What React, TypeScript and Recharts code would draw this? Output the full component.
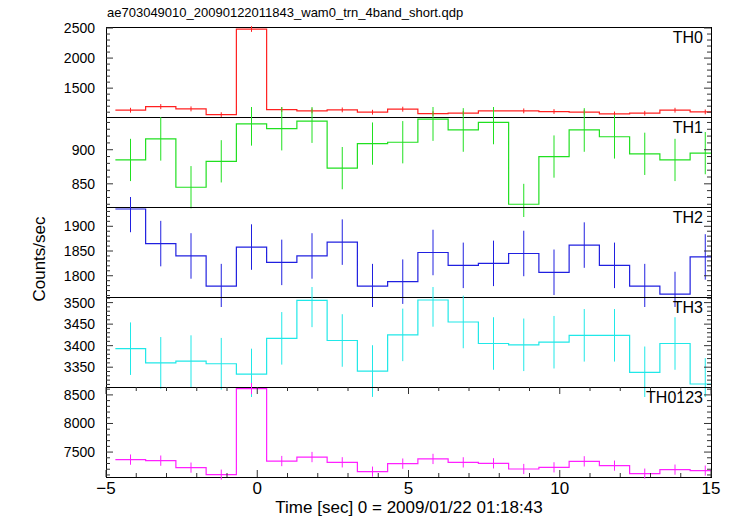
import React from 'react';
import { ComposedChart, Line, Scatter, ErrorBar, XAxis, YAxis, ReferenceArea } from 'recharts';

// bin centres (sec), bin width 1 s
const binTime = [-4.19, -3.19, -2.19, -1.19, -0.19, 0.81, 1.81, 2.81, 3.81, 4.81,
  5.81, 6.81, 7.81, 8.81, 9.81, 10.81, 11.81, 12.81, 13.81, 14.81];
const binWidth = 1;

const th0 = [1133, 1193, 1155, 1060, 2483, 1143, 1122, 1138, 1100, 1150,
  1077, 1083, 1122, 1122, 1111, 1100, 1072, 1083, 1133, 1105];
const th0Err = [40, 42, 41, 39, 47, 40, 40, 40, 40, 41, 39, 39, 40, 40, 40, 40, 39, 39, 40, 40];

const th1 = [885, 916, 845, 883, 938, 931, 942, 873, 909, 911,
  945, 929, 940, 820, 890, 929, 919, 894, 885, 895];
const th1Err = [31, 32, 31, 31, 32, 32, 32, 31, 31, 31, 32, 32, 32, 30, 31, 32, 32, 31, 31, 31];

const th2 = [1935, 1865, 1840, 1779, 1858, 1827, 1840, 1868, 1779, 1788,
  1847, 1821, 1825, 1845, 1807, 1862, 1821, 1779, 1763, 1838];
const th2Err = [47, 46, 46, 45, 46, 46, 46, 46, 45, 45, 46, 46, 46, 46, 46, 46, 46, 45, 45, 46];

const th3 = [3393, 3360, 3364, 3358, 3334, 3417, 3505, 3412, 3341, 3425,
  3506, 3455, 3405, 3402, 3408, 3424, 3424, 3338, 3405, 3311];
const th3Err = [61, 60, 60, 60, 59, 61, 62, 61, 60, 61, 62, 61, 61, 61, 61, 61, 61, 60, 61, 60];

const th0123 = [7368, 7350, 7228, 7106, 8610, 7343, 7413, 7321, 7158, 7298,
  7380, 7320, 7303, 7204, 7233, 7338, 7263, 7124, 7193, 7176];
const th0123Err = [90, 90, 89, 88, 97, 90, 90, 90, 88, 90, 90, 90, 90, 89, 89, 90, 89, 88, 89, 89];

const xMajor = [-5, 0, 5, 10, 15];

const FONT = '"Liberation Sans", Arial, Helvetica, sans-serif';
const PLOT_LEFT = 106;
const PLOT_W = 605;
const PLOT_H = 90;
const TOP0 = 27;

interface PanelDef {
  name: string;
  color: string;
  values: number[];
  errors: number[];
  domain: [number, number];
  major: number[];
  minorStep: number;
}

const panels: PanelDef[] = [
  { name: 'TH0', color: '#ff2020', values: th0, errors: th0Err, domain: [1020, 2517], major: [1500, 2000, 2500], minorStep: 100 },
  { name: 'TH1', color: '#20e020', values: th1, errors: th1Err, domain: [816, 948], major: [850, 900], minorStep: 10 },
  { name: 'TH2', color: '#2020e0', values: th2, errors: th2Err, domain: [1757, 1939], major: [1800, 1850, 1900], minorStep: 10 },
  { name: 'TH3', color: '#20e8e8', values: th3, errors: th3Err, domain: [3304, 3513], major: [3350, 3400, 3450, 3500], minorStep: 10 },
  { name: 'TH0123', color: '#ff20ff', values: th0123, errors: th0123Err, domain: [7064, 8638], major: [7500, 8000, 8500], minorStep: 100 },
];

const xTicks: number[] = [];
for (let t = -5; t <= 15; t++) xTicks.push(t);

function yTicksFor(p: PanelDef) {
  const out: number[] = [];
  const start = Math.ceil(p.domain[0] / p.minorStep) * p.minorStep;
  for (let v = start; v <= p.domain[1]; v += p.minorStep) out.push(v);
  return out;
}

const TICK = '#333';

const YTick = (props: any) => {
  const { x, y, payload, major } = props;
  const isMajor = major.includes(payload.value);
  const len = isMajor ? 7 : 4;
  return (
    <g>
      <line x1={x} y1={y} x2={x + len} y2={y} stroke={TICK} />
      <line x1={x + PLOT_W} y1={y} x2={x + PLOT_W - len} y2={y} stroke={TICK} />
      {isMajor && (
        <text x={x - 11} y={y + 5} textAnchor="end" fontSize={14} fontFamily={FONT} fill="#000">
          {payload.value}
        </text>
      )}
    </g>
  );
};

const XTick = (props: any) => {
  const { x, y, payload, showLabel } = props;
  const isMajor = xMajor.includes(payload.value);
  const len = isMajor ? 7 : 4;
  return (
    <g>
      <line x1={x} y1={y} x2={x} y2={y - len} stroke={TICK} />
      <line x1={x} y1={y - PLOT_H} x2={x} y2={y - PLOT_H + len} stroke={TICK} />
      {showLabel && isMajor && (
        <text x={x} y={y + 17} textAnchor="middle" fontSize={17} fontFamily={FONT} fill="#000">
          {String(payload.value).replace('-', '\u2212')}
        </text>
      )}
    </g>
  );
};

const PanelLabel = (props: any) => {
  const { viewBox, name } = props;
  return (
    <text x={viewBox.x + viewBox.width - 8} y={viewBox.y + 16} textAnchor="end" fontSize={16} fontFamily={FONT} fill="#000">
      {name}
    </text>
  );
};

const Panel = ({ p, index, last }: { p: PanelDef; index: number; last: boolean }) => {
  const steps = p.values.map((v, i) => ({ t: binTime[i] - binWidth / 2, v }));
  steps.push({ t: binTime[binTime.length - 1] + binWidth / 2, v: p.values[p.values.length - 1] });
  const points = p.values.map((v, i) => ({ t: binTime[i], v, e: p.errors[i] }));
  const pad = 10;
  const axisH = last ? 40 : 0;
  return (
    <div style={{ position: 'absolute', left: 0, top: TOP0 + index * PLOT_H - pad }}>
      <ComposedChart width={733} height={PLOT_H + pad * (last ? 1 : 2) + axisH}
        margin={{ top: pad, right: 22, bottom: last ? 0 : pad, left: 0 }}>
        <XAxis dataKey="t" type="number" domain={[-5, 15]} allowDataOverflow ticks={xTicks} interval={0}
          height={axisH} tickLine={false} axisLine={false} tickSize={0} tickMargin={0}
          tick={<XTick showLabel={last} />} />
        <YAxis type="number" domain={p.domain} allowDataOverflow ticks={yTicksFor(p)} interval={0}
          width={PLOT_LEFT} tickLine={false} axisLine={false} tickSize={0} tickMargin={0}
          tick={<YTick major={p.major} />} />
        <Line data={steps} dataKey="v" type="stepAfter" stroke={p.color} strokeWidth={1.2} dot={false}
          isAnimationActive={false} />
        <Scatter data={points} dataKey="v" shape={() => <g />} isAnimationActive={false}>
          <ErrorBar dataKey="e" direction="y" width={0} stroke={p.color} strokeWidth={1} isAnimationActive={false} />
        </Scatter>
        <ReferenceArea x1={-5} x2={15} y1={p.domain[0]} y2={p.domain[1]} fill="none" stroke="#000" strokeWidth={1}
          fillOpacity={0} shapeRendering="crispEdges" label={<PanelLabel name={p.name} />} />
      </ComposedChart>
    </div>
  );
};

export default function App() {
  return (
    <div style={{ position: 'absolute', left: 0, top: 0, width: 733, height: 516, background: '#fff', fontFamily: FONT }}>
      <div style={{ position: 'absolute', left: 107, top: 5, fontSize: 13, color: '#000', whiteSpace: 'nowrap' }}>
        ae703049010_20090122011843_wam0_trn_4band_short.qdp
      </div>
      {panels.map((p, i) => (
        <Panel key={p.name} p={p} index={i} last={i === panels.length - 1} />
      ))}
      <div style={{ position: 'absolute', left: 40, top: 259, transform: 'translate(-50%, -50%) rotate(-90deg)', fontSize: 17, whiteSpace: 'nowrap', color: '#000' }}>
        Counts/sec
      </div>
      <div style={{ position: 'absolute', left: 409, top: 499, lineHeight: '17px', transform: 'translateX(-50%)', fontSize: 17, whiteSpace: 'nowrap', color: '#000' }}>
        Time [sec] 0 = 2009/01/22 01:18:43
      </div>
    </div>
  );
}
